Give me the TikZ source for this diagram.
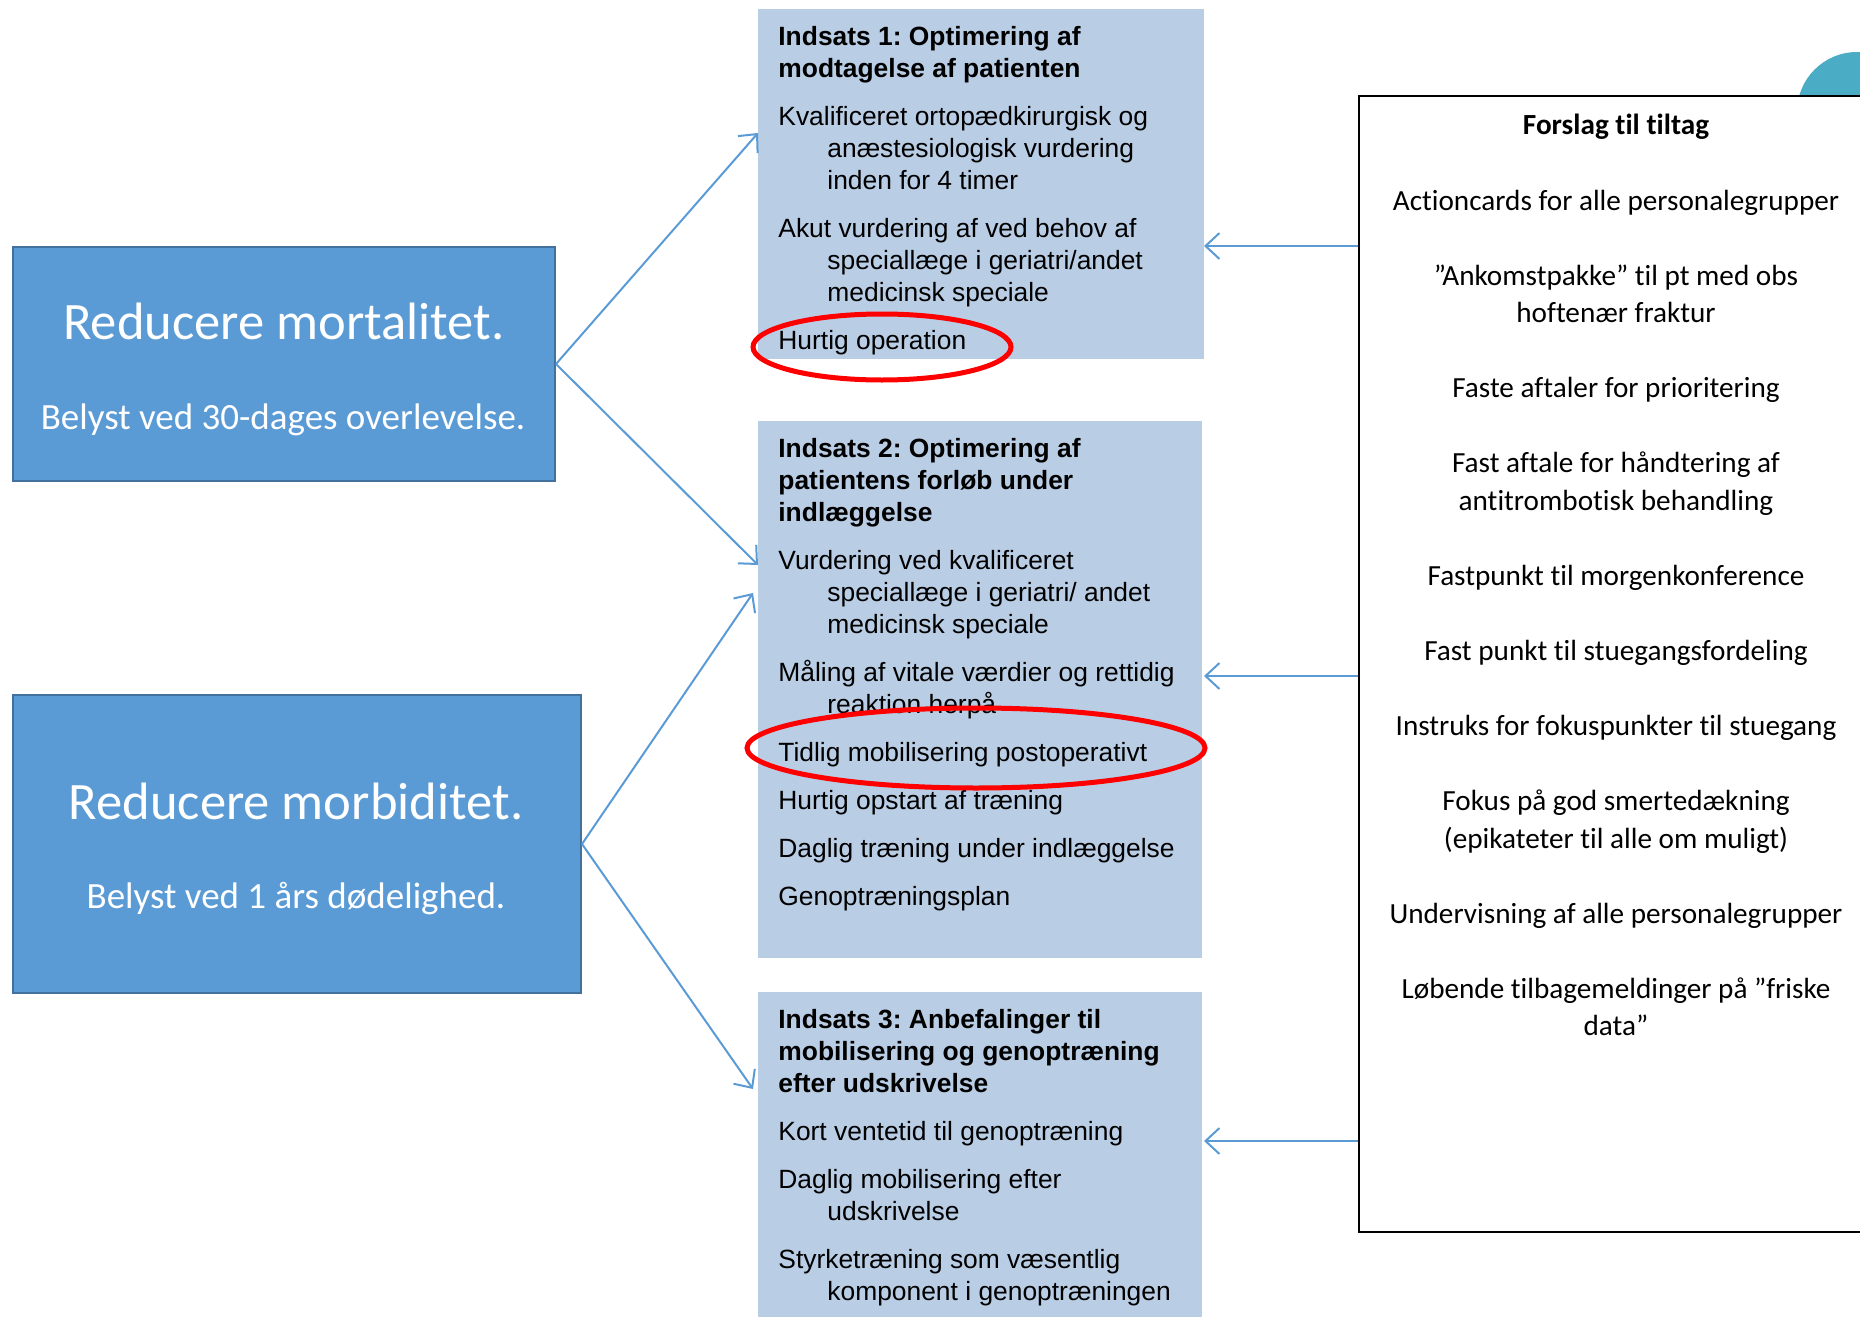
\documentclass[tikz,border=0pt]{standalone}
\usepackage{fontspec}
\setmainfont[Ligatures=NoCommon]{Carlito}
\newfontfamily\arialfont{Liberation Sans}
\usetikzlibrary{positioning, arrows.meta}
\definecolor{goalblue}{HTML}{5B9BD5}
\definecolor{goalborder}{HTML}{41719C}
\definecolor{indblue}{HTML}{B9CDE5}
\definecolor{tealdot}{HTML}{4BACC6}
\newcommand{\Ind}{\hspace*{24.5pt}}
\frenchspacing

\begin{document}
\begin{tikzpicture}[x=0.5pt, y=-0.5pt,
	goalbox/.style={draw=goalborder, line width=1pt, fill=goalblue, inner sep=0pt, anchor=north west},
	goaltitle/.style={text=white, anchor=base, font=\fontsize{26.3}{30}\selectfont},
	goalsub/.style={text=white, anchor=base, font=\fontsize{18.5}{22}\selectfont},
	indbox/.style={fill=indblue, inner sep=0pt, anchor=north west},
	indtext/.style={align=left, inner sep=0pt, anchor=north west, font=\arialfont\fontsize{13.2}{16}\selectfont},
	arr/.style={draw=goalblue, line width=1pt, -{Straight Barb[length=7pt, width=13pt]}},
	ring/.style={draw=red, line width=2.5pt}]

	\useasboundingbox (0,0) rectangle (1860,1317);

	% goals on the left
	\node[goalbox, minimum width=271pt, minimum height=117pt] (mort) at (12,246) {};
	\node[goaltitle] (morttitle) at (284,339) {Reducere mortalitet.};
	\node[goalsub] (mortsub) at (283,429) {Belyst ved 30-dages overlevelse.};

	\node[goalbox, minimum width=284pt, minimum height=149pt] (morb) at (12,694) {};
	\node[goaltitle] (morbtitle) at (296,819) {Reducere morbiditet.};
	\node[goalsub] (morbsub) at (296,908) {Belyst ved 1 års dødelighed.};

	% the three indsatser
	\node[indbox, minimum width=223pt, minimum height=175pt] (ind1) at (758,9) {};
	\node[indtext] (ind1text) at (778,26) {\textbf{Indsats 1: Optimering af}\\
		\textbf{modtagelse af patienten}\\[8pt]
		Kvalificeret ortopædkirurgisk og\\
		\Ind anæstesiologisk vurdering\\
		\Ind inden for 4 timer\\[8pt]
		Akut vurdering af ved behov af\\
		\Ind speciallæge i geriatri/andet\\
		\Ind medicinsk speciale\\[8pt]
		Hurtig operation};

	\node[indbox, minimum width=222pt, minimum height=268.5pt] (ind2) at (758,421) {};
	\node[indtext] (ind2text) at (778,438) {\textbf{Indsats 2: Optimering af}\\
		\textbf{patientens forløb under}\\
		\textbf{indlæggelse}\\[8pt]
		Vurdering ved kvalificeret\\
		\Ind speciallæge i geriatri/ andet\\
		\Ind medicinsk speciale\\[8pt]
		Måling af vitale værdier og rettidig\\
		\Ind reaktion herpå\\[8pt]
		Tidlig mobilisering postoperativt\\[8pt]
		Hurtig opstart af træning\\[8pt]
		Daglig træning under indlæggelse\\[8pt]
		Genoptræningsplan};

	\node[indbox, minimum width=222pt, minimum height=170pt] (ind3) at (758,992) {};
	\node[indtext] (ind3text) at (778,1009) {\textbf{Indsats 3: Anbefalinger til}\\
		\textbf{mobilisering og genoptræning}\\
		\textbf{efter udskrivelse}\\[8pt]
		Kort ventetid til genoptræning\\[8pt]
		Daglig mobilisering efter\\
		\Ind udskrivelse\\[8pt]
		Styrketræning som væsentlig\\
		\Ind komponent i genoptræningen};

	% forslag box on the right
	\fill[tealdot] (1857,112) circle (30pt);
	\node[draw=black, line width=1pt, fill=white, inner sep=0pt, anchor=north west,
		minimum width=256pt, minimum height=568pt] (tiltag) at (1358,95) {};
	\node[align=center, inner sep=0pt, anchor=north, font=\fontsize{14.6}{18.6}\selectfont] (tiltagtext) at (1616,114) {\textbf{Forslag til tiltag}\\[19pt]
		Actioncards for alle personalegrupper\\[19pt]
		”Ankomstpakke” til pt med obs\\
		hoftenær fraktur\\[19pt]
		Faste aftaler for prioritering\\[19pt]
		Fast aftale for håndtering af\\
		antitrombotisk behandling\\[19pt]
		Fastpunkt til morgenkonference\\[19pt]
		Fast punkt til stuegangsfordeling\\[19pt]
		Instruks for fokuspunkter til stuegang\\[19pt]
		Fokus på god smertedækning\\
		(epikateter til alle om muligt)\\[19pt]
		Undervisning af alle personalegrupper\\[19pt]
		Løbende tilbagemeldinger på ”friske\\
		data”};

	% arrows
	\coordinate (a1) at (758,133);
	\coordinate (a2) at (758,565);
	\coordinate (a3) at (753,593);
	\coordinate (a4) at (753,1089);
	\draw[arr] (mort.east) -- (a1);
	\draw[arr] (mort.east) -- (a2);
	\draw[arr] (morb.east) -- (a3);
	\draw[arr] (morb.east) -- (a4);

	\coordinate (b1) at (1204,246);
	\coordinate (b2) at (1204,676);
	\coordinate (b3) at (1204,1141);
	\draw[arr] (tiltag.west |- b1) -- (b1);
	\draw[arr] (tiltag.west |- b2) -- (b2);
	\draw[arr] (tiltag.west |- b3) -- (b3);

	% red rings
	\draw[ring] (882,347) ellipse [x radius=64.5pt, y radius=16.5pt];
	\draw[ring] (976,748) ellipse [x radius=114.5pt, y radius=20pt];
\end{tikzpicture}
\end{document}
